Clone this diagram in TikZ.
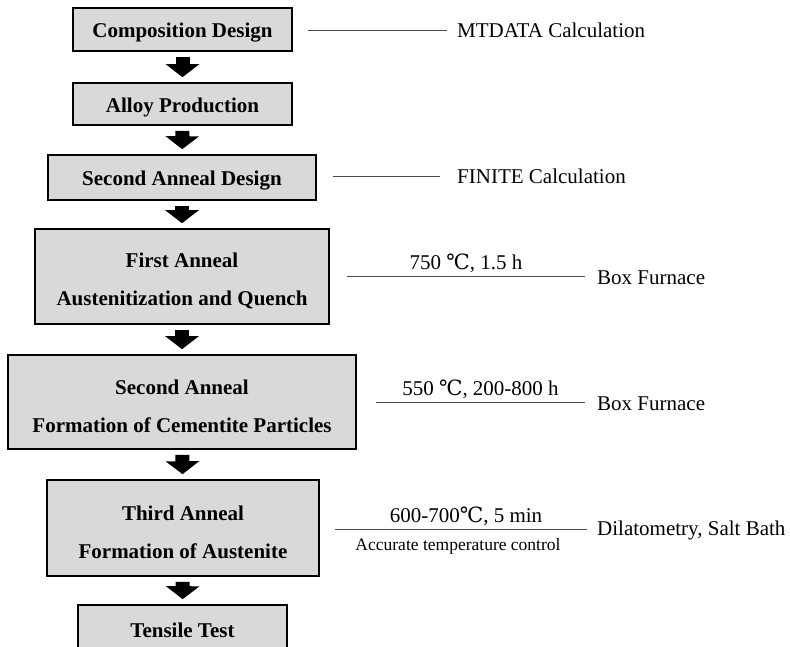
\documentclass[tikz,border=0pt]{standalone}
\usepackage{fontspec}
\setmainfont{Liberation Serif}
\newfontfamily\degfont{DejaVu Serif}
\newcommand{\degC}{{\degfont ℃}}
\newcommand{\toppad}{\rule{0pt}{23pt}}
\usetikzlibrary{arrows.meta}
\tikzset{
  stage/.style={draw=black, line width=1.6pt, fill=gray!30, align=center,
    inner sep=0pt, font=\bfseries\fontsize{21}{38}\selectfont},
  blockarrow/.style={line width=14pt, -{Triangle[width=33pt,length=13pt]},
    shorten <=5pt, shorten >=5pt},
  note/.style={inner sep=0pt, anchor=west, font=\fontsize{21}{25}\selectfont},
  lead/.style={draw=black!70, line width=0.8pt},
  cond/.style={inner sep=3pt, font=\fontsize{21}{25}\selectfont}
}
\begin{document}
\begin{tikzpicture}[x=1pt,y=-1pt]
  \clip (0,0) rectangle (790,647);
  \node[stage, minimum width=219, minimum height=43] (comp) at (182.5,29.5) {\rule{0pt}{21pt}Composition Design};
  \node[stage, minimum width=219, minimum height=42] (alloy) at (182.5,104) {\rule{0pt}{21pt}Alloy Production};
  \node[stage, minimum width=268, minimum height=45] (sdesign) at (182,177.5) {\rule{0pt}{21pt}Second Anneal Design};
  \node[stage, minimum width=294, minimum height=95] (first) at (182,276.5)
    {\toppad First Anneal\\Austenitization and Quench};
  \node[stage, minimum width=348, minimum height=94] (second) at (182,402)
    {\toppad Second Anneal\\Formation of Cementite Particles};
  \node[stage, minimum width=272, minimum height=96] (third) at (183,528)
    {\toppad Third Anneal\\Formation of Austenite};
  \node[stage, minimum width=209, minimum height=44] (tensile) at (182.5,627) {\rule{0pt}{21pt}Tensile Test};
  \foreach \a/\b in {comp/alloy, alloy/sdesign, sdesign/first, first/second,
    second/third, third/tensile}
    \draw[blockarrow] (\a) -- (\b);
  % right-hand notes
  \node[note] (mtdata) at (457,30) {MTDATA Calculation};
  \node[note] (finite) at (457,176) {FINITE Calculation};
  \node[note] (furnA) at (597,278) {Box Furnace};
  \node[note] (furnB) at (597,404) {Box Furnace};
  \node[note] (dilat) at (597,530) {Dilatometry, Salt Bath};
  \coordinate (lA) at (308,30);
  \coordinate (lB) at (333,176);
  \coordinate (lC) at (347,276);
  \coordinate (lD) at (376,402);
  \coordinate (lE) at (335,529);
  \draw[lead] (lA) -- ([xshift=-10]mtdata.west);
  \draw[lead] (lB) -- ([xshift=-17]finite.west);
  \draw[lead] (lC) -- node[cond, above]{750 \degC, 1.5 h} ([xshift=-12]furnA.west |- lC);
  \draw[lead] (lD) -- node[cond, above]{550 \degC, 200-800 h} ([xshift=-12]furnB.west |- lD);
  \draw[lead] (lE) -- node[cond, above, xshift=5]{600-700\degC, 5 min}
    node[below, inner sep=9pt, xshift=-3, font=\fontsize{17.5}{20}\selectfont]{Accurate temperature control}
    ([xshift=-10]dilat.west |- lE);
\end{tikzpicture}
\end{document}
